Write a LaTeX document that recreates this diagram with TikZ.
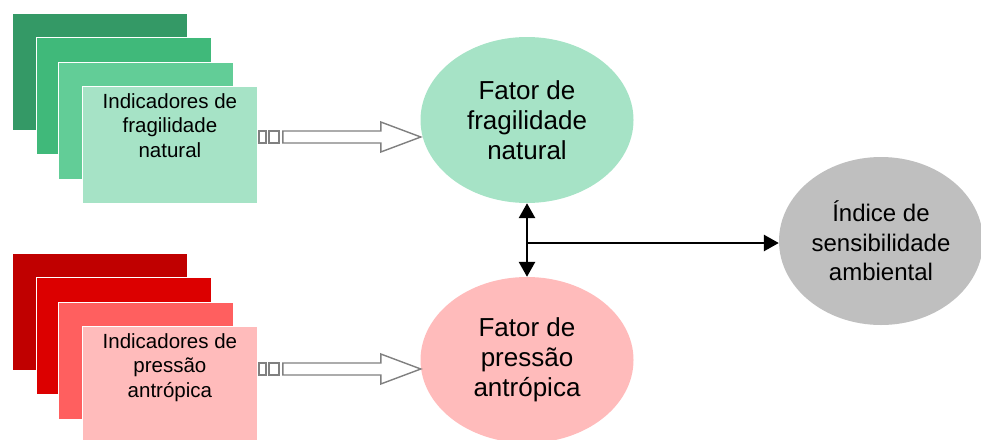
\documentclass[tikz,border=0pt]{standalone}
\usepackage{fontspec}
\setmainfont{Liberation Sans}
\usetikzlibrary{arrows.meta,shapes.geometric,calc}

\definecolor{verdeA}{HTML}{349966}
\definecolor{verdeB}{HTML}{40B97A}
\definecolor{verdeC}{HTML}{62CD97}
\definecolor{verdeD}{HTML}{A6E3C6}
\definecolor{vermA}{HTML}{C00000}
\definecolor{vermB}{HTML}{DC0000}
\definecolor{vermC}{HTML}{FF5F5F}
\definecolor{vermD}{HTML}{FFBBBB}
\definecolor{cinza}{HTML}{BFBFBF}

\tikzset{
	folha/.style={draw=white, line width=0.8pt, anchor=north west, inner sep=0pt,
		minimum width=175pt, minimum height=117pt},
	rotulo/.style={align=center, anchor=north, inner sep=0pt,
		font=\fontsize{20.5}{24.5}\selectfont},
	fator/.style={ellipse, inner sep=0pt, align=center,
		minimum width=213pt, minimum height=166pt,
		font=\fontsize{26}{30}\selectfont},
	seta/.style={draw=gray, line width=1.4pt, fill=white},
	liga/.style={line width=2.8pt, -{Triangle[length=15pt,width=16pt]}}
}

\begin{document}
\begin{tikzpicture}[x=1pt, y=-1pt]
	\useasboundingbox (0,0) rectangle (981,439);

	% indicadores de fragilidade
	\node[folha, fill=verdeA] (frag1) at (12,13) {};
	\node[folha, fill=verdeB] (frag2) at (36,37) {};
	\node[folha, fill=verdeC] (frag3) at (58,62) {};
	\node[folha, fill=verdeD] (frag4) at (82,86) {};
	\node[rotulo] (fragtxt) at ($(frag4.north)+(0,7)$) {Indicadores de\\fragilidade\\natural};

	% indicadores de pressao
	\node[folha, fill=vermA] (press1) at (12,253) {};
	\node[folha, fill=vermB] (press2) at (36,277) {};
	\node[folha, fill=vermC] (press3) at (58,302) {};
	\node[folha, fill=vermD] (press4) at (82,326) {};
	\node[rotulo] (presstxt) at ($(press4.north)+(0,7)$) {Indicadores de\\pressão\\antrópica};

	% fatores e indice
	\node[fator, fill=verdeD] (fragfator) at (527,120) {Fator de\\fragilidade\\natural};
	\node[fator, fill=vermD] (pressfator) at (527,360) {Fator de\\pressão\\antrópica};
	\node[fator, fill=cinza, minimum width=204pt, minimum height=168pt,
		font=\fontsize{24}{29.5}\selectfont] (indice) at (881,241) {Índice de\\sensibilidade\\ambiental};

	% setas largas
	\coordinate (fragseta) at (frag4.east |- 0,137);
	\draw[seta] (fragseta) ++(1,-6) rectangle ++(7,12);
	\draw[seta] (fragseta) ++(11,-6) rectangle ++(10,12);
	\draw[seta] (fragseta) ++(25,-6) -- ++(98,0) -- ++(0,-9) -- ++(40,15) -- ++(-40,15) -- ++(0,-9) -- ++(-98,0) -- cycle;

	\coordinate (pressseta) at (press4.east |- 0,369);
	\draw[seta] (pressseta) ++(1,-6) rectangle ++(7,12);
	\draw[seta] (pressseta) ++(11,-6) rectangle ++(10,12);
	\draw[seta] (pressseta) ++(25,-6) -- ++(98,0) -- ++(0,-9) -- ++(40,15) -- ++(-40,15) -- ++(0,-9) -- ++(-98,0) -- cycle;

	% ligacoes
	\draw[liga, {Triangle[length=15pt,width=16pt]}-{Triangle[length=15pt,width=16pt]}] (fragfator.south) -- (pressfator.north);
	\coordinate (meio) at (fragfator.south |- 0,243);
	\draw[liga] (meio) -- (meio -| indice.west);
\end{tikzpicture}
\end{document}
